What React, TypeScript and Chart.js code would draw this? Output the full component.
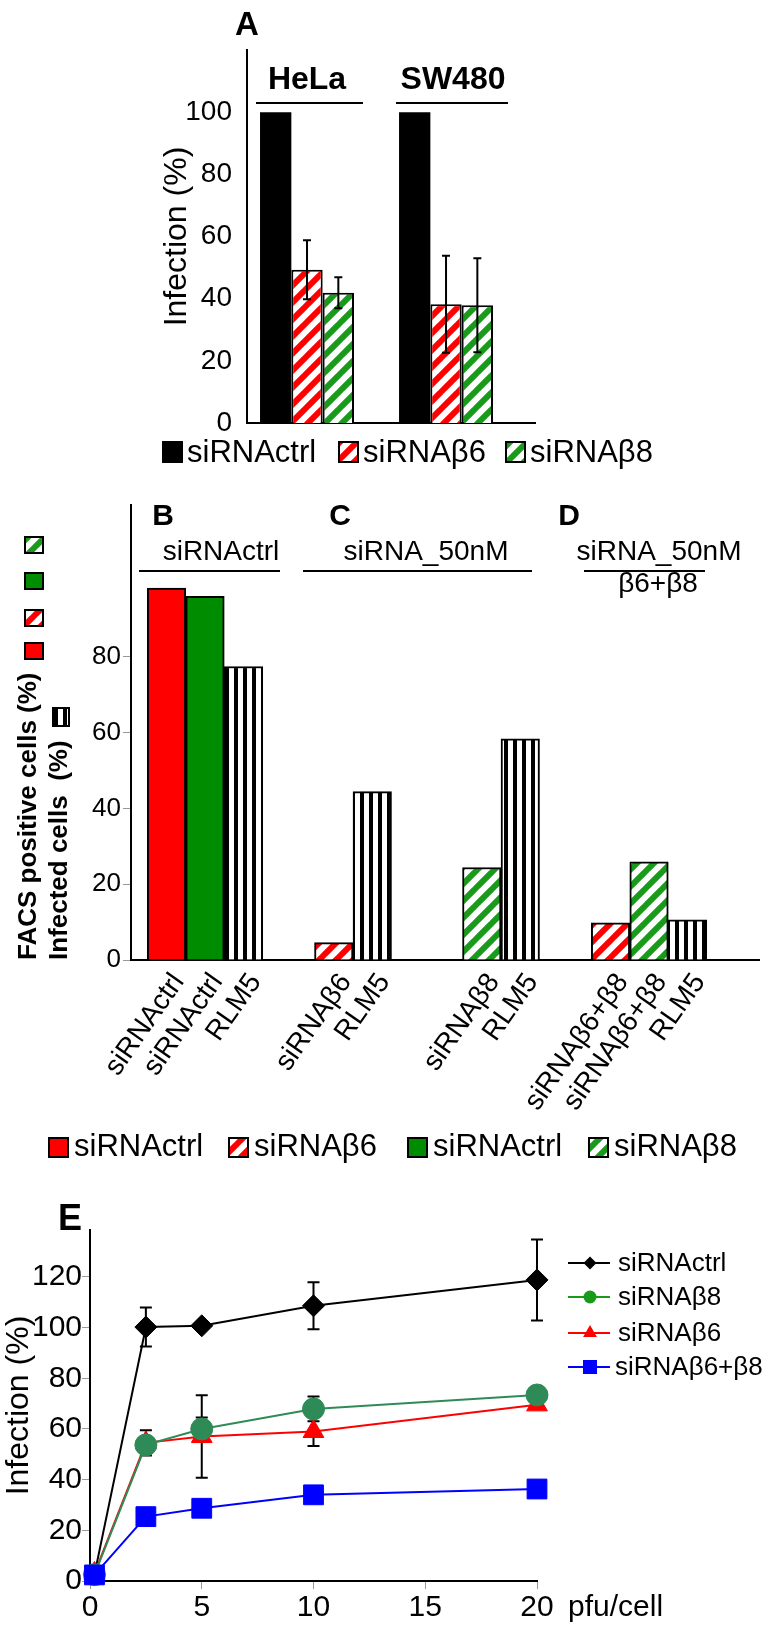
import React, { useEffect, useRef } from 'react';
import { Chart, registerables } from 'chart.js';

Chart.register(...registerables);

const FONT = '"Liberation Sans", Arial, Helvetica, sans-serif';
Chart.defaults.font.family = FONT;
Chart.defaults.color = '#000';

// ---------- Panel A ----------
const A_CELL_LINES = ['HeLa', 'SW480'];
const A_SERIES = ['siRNActrl', 'siRNAβ6', 'siRNAβ8'];
const A_CTRL = [100, 100];
const A_BETA6 = [49.3, 38.2];
const A_BETA6_ERR = [9.5, 15.6];
const A_BETA8 = [41.9, 37.9];
const A_BETA8_ERR = [5.0, 15.1];
const A_Y_TICKS = [0, 20, 40, 60, 80, 100];

// ---------- Panels B–D ----------
const BCD_GROUPS = ['siRNActrl', 'siRNAβ6', 'siRNAβ8', 'siRNAβ6+β8'];
const BCD_FACS_BETA6 = [98.1, 4.6, null, 9.8];
const BCD_FACS_BETA8 = [95.9, null, 24.4, 25.9];
const BCD_INFECTED_RLM5 = [77.4, 44.4, 58.3, 10.6];
const BCD_LABELS_BETA6 = ['siRNActrl', 'siRNAβ6', '', 'siRNAβ6+β8'];
const BCD_LABELS_BETA8 = ['siRNActrl', '', 'siRNAβ8', 'siRNAβ6+β8'];
const BCD_LABELS_RLM5 = ['RLM5', 'RLM5', 'RLM5', 'RLM5'];
const BCD_Y_TICKS = [0, 20, 40, 60, 80];
const BCD_LEGEND = ['siRNActrl', 'siRNAβ6', 'siRNActrl', 'siRNAβ8'];

// ---------- Panel E ----------
const E_SERIES = ['siRNActrl', 'siRNAβ8', 'siRNAβ6', 'siRNAβ6+β8'];
const E_PFU = [0.2, 2.5, 5, 10, 20];
const E_CTRL = [2.5, 100.2, 100.7, 108.6, 118.8];
const E_CTRL_ERR = [0, 7.7, 0, 9.3, 16];
const E_BETA8 = [2.5, 53.7, 60.0, 67.9, 73.4];
const E_BETA8_ERR = [0, 3, 4.5, 4.9, 0];
const E_BETA6 = [3.0, 54.5, 57.0, 59.0, 69.5];
const E_BETA6_ERR = [0, 5, 16.3, 5.7, 0];
const E_BETA68 = [2.4, 25.4, 28.7, 34.0, 36.3];
const E_X_TICKS = [0, 5, 10, 15, 20];
const E_Y_TICKS = [0, 20, 40, 60, 80, 100, 120];

const RED = '#FF0000';
const GREEN_SOLID = '#008C00';
const GREEN_HATCH = '#1A9A1A';
const E_COLORS = ['#000000', '#2E8B57', '#FF0000', '#0000FF'];
const E_LEGEND_COLORS = ['#000000', '#1A9A1A', '#FF0000', '#0000FF'];
const E_STYLES = ['rectRot', 'circle', 'triangle', 'rect'];

function makeHatch(color: string, size = 17, width = 6): CanvasPattern {
  const c = document.createElement('canvas');
  c.width = size;
  c.height = size;
  const g = c.getContext('2d') as CanvasRenderingContext2D;
  g.fillStyle = '#ffffff';
  g.fillRect(0, 0, size, size);
  g.strokeStyle = color;
  g.lineWidth = width;
  for (let k = -1; k <= 1; k++) {
    g.beginPath();
    g.moveTo(k * size - 2, size + 2);
    g.lineTo(k * size + size + 2, -2);
    g.stroke();
  }
  return g.createPattern(c, 'repeat') as CanvasPattern;
}

function makeVStripes(period = 9, black = 4): CanvasPattern {
  const c = document.createElement('canvas');
  c.width = period;
  c.height = 8;
  const g = c.getContext('2d') as CanvasRenderingContext2D;
  g.fillStyle = '#ffffff';
  g.fillRect(0, 0, period, 8);
  g.fillStyle = '#000000';
  g.fillRect(0, 0, black, 8);
  return g.createPattern(c, 'repeat') as CanvasPattern;
}

function drawErrorBars(chart: any, opts: any) {
  const { ctx, scales } = chart;
  const y = scales.y;
  ctx.save();
  ctx.strokeStyle = '#000';
  ctx.lineWidth = opts.lineWidth || 2;
  chart.data.datasets.forEach((ds: any, di: number) => {
    const errs = ds.errors;
    if (!errs) return;
    const meta = chart.getDatasetMeta(di);
    meta.data.forEach((el: any, i: number) => {
      const e = errs[i];
      const p = meta.controller.getParsed(i);
      if (!e || !p || p.y == null) return;
      const x = el.x;
      const yt = y.getPixelForValue(p.y + e);
      const yb = y.getPixelForValue(p.y - e);
      const c = opts.cap;
      ctx.beginPath();
      ctx.moveTo(x, yt);
      ctx.lineTo(x, yb);
      ctx.moveTo(x - c, yt);
      ctx.lineTo(x + c, yt);
      ctx.moveTo(x - c, yb);
      ctx.lineTo(x + c, yb);
      ctx.stroke();
    });
  });
  ctx.restore();
}

const errorBarsPlugin = {
  id: 'errorBars',
  beforeDatasetsDraw(chart: any, _a: any, opts: any) {
    if (opts && opts.under) drawErrorBars(chart, opts);
  },
  afterDatasetsDraw(chart: any, _a: any, opts: any) {
    if (opts && !opts.under) drawErrorBars(chart, opts);
  },
};

function box(ctx: CanvasRenderingContext2D, fill: any, x: number, y: number, w: number, h: number, border: boolean) {
  ctx.fillStyle = fill;
  ctx.fillRect(x, y, w, h);
  if (border) {
    ctx.lineWidth = 2;
    ctx.strokeStyle = '#000';
    ctx.strokeRect(x + 1, y + 1, w - 2, h - 2);
  }
}

function line(ctx: CanvasRenderingContext2D, x0: number, y0: number, x1: number, y1: number, w = 2, color = '#000') {
  ctx.beginPath();
  ctx.strokeStyle = color;
  ctx.lineWidth = w;
  ctx.moveTo(x0, y0);
  ctx.lineTo(x1, y1);
  ctx.stroke();
}

function drawMarker(ctx: CanvasRenderingContext2D, style: string, x: number, y: number, r: number, color: string) {
  ctx.fillStyle = color;
  ctx.beginPath();
  if (style === 'circle') {
    ctx.arc(x, y, r, 0, Math.PI * 2);
  } else if (style === 'rectRot') {
    ctx.moveTo(x, y - r);
    ctx.lineTo(x + r, y);
    ctx.lineTo(x, y + r);
    ctx.lineTo(x - r, y);
    ctx.closePath();
  } else if (style === 'triangle') {
    ctx.moveTo(x, y - r);
    ctx.lineTo(x + r * 0.866, y + r / 2);
    ctx.lineTo(x - r * 0.866, y + r / 2);
    ctx.closePath();
  } else {
    ctx.rect(x - r, y - r, 2 * r, 2 * r);
  }
  ctx.fill();
}

// ---- Panel A decorations (title letter, group headers, legend)
const panelAPlugin = {
  id: 'panelA',
  afterDraw(chart: any) {
    const ctx = chart.ctx as CanvasRenderingContext2D;
    ctx.save();
    ctx.fillStyle = '#000';
    ctx.textAlign = 'center';
    ctx.textBaseline = 'alphabetic';
    ctx.font = `bold 33px ${FONT}`;
    ctx.fillText('A', 247, 35);
    const heads = [
      { x: 307, x0: 256, x1: 363 },
      { x: 453, x0: 396, x1: 508 },
    ];
    A_CELL_LINES.forEach((name, i) => {
      ctx.fillStyle = '#000';
      ctx.font = `bold 32px ${FONT}`;
      ctx.fillText(name, heads[i].x, 89);
      line(ctx, heads[i].x0, 103, heads[i].x1, 103, 2);
    });
    const boxes = [162, 338, 505];
    ctx.font = `31px ${FONT}`;
    ctx.textAlign = 'left';
    ctx.textBaseline = 'middle';
    A_SERIES.forEach((name, i) => {
      const ds = chart.data.datasets[i];
      box(ctx, ds.backgroundColor, boxes[i], 441, 21, 22, i > 0);
      ctx.fillStyle = '#000';
      ctx.fillText(name, boxes[i] + 25, 453);
    });
    ctx.restore();
  },
};

// ---- Panels B–D decorations
function makeBCDPlugin(p: any) {
  return {
    id: 'panelBCD',
    afterDraw(chart: any) {
      const ctx = chart.ctx as CanvasRenderingContext2D;
      const area = chart.chartArea;
      ctx.save();
      ctx.fillStyle = '#000';
      ctx.textAlign = 'center';
      ctx.textBaseline = 'alphabetic';
      ctx.font = `bold 30px ${FONT}`;
      ctx.fillText('B', 163, 45);
      ctx.fillText('C', 340, 45);
      ctx.fillText('D', 569, 45);
      ctx.font = `28px ${FONT}`;
      ctx.fillText('siRNActrl', 221, 80);
      ctx.fillText('siRNA_50nM', 426, 80);
      ctx.fillText('siRNA_50nM', 659, 80);
      ctx.fillText('β6+β8', 658, 112);
      line(ctx, 139, 91, 280, 91, 2);
      line(ctx, 303, 91, 532, 91, 2);
      line(ctx, 584, 91, 705, 91, 2);

      // key squares next to the y-axis titles
      box(ctx, p.greenHatch, 24, 56, 20, 18, true);
      box(ctx, GREEN_SOLID, 24, 92, 20, 18, true);
      box(ctx, p.redHatch, 24, 129, 20, 18, true);
      box(ctx, RED, 24, 162, 20, 18, true);
      box(ctx, p.vstripes, 52, 227, 18, 20, true);

      // rotated labels under each bar
      ctx.font = `28px ${FONT}`;
      ctx.textAlign = 'right';
      ctx.textBaseline = 'middle';
      chart.data.datasets.forEach((ds: any, di: number) => {
        const meta = chart.getDatasetMeta(di);
        meta.data.forEach((el: any, i: number) => {
          const txt = ds.barLabels[i];
          const parsed = meta.controller.getParsed(i);
          if (!txt || !parsed || parsed.y == null || !isFinite(el.x)) return;
          ctx.save();
          ctx.translate(el.x + 12, area.bottom + 17);
          ctx.rotate((-55 * Math.PI) / 180);
          ctx.fillStyle = '#000';
          ctx.fillText(txt, 0, 0);
          ctx.restore();
        });
      });

      // bottom legend
      const fills = [RED, p.redHatch, GREEN_SOLID, p.greenHatch];
      const xs = [48, 228, 407, 588];
      ctx.font = `31px ${FONT}`;
      ctx.textAlign = 'left';
      ctx.textBaseline = 'middle';
      BCD_LEGEND.forEach((name, i) => {
        box(ctx, fills[i], xs[i], 657, 21, 21, true);
        ctx.fillStyle = '#000';
        ctx.fillText(name, xs[i] + 26, 667);
      });
      ctx.restore();
    },
  };
}

// ---- Panel E decorations
const panelEPlugin = {
  id: 'panelE',
  afterDraw(chart: any) {
    const ctx = chart.ctx as CanvasRenderingContext2D;
    const area = chart.chartArea;
    const xs = chart.scales.x;
    ctx.save();
    ctx.fillStyle = '#000';
    ctx.textAlign = 'left';
    ctx.textBaseline = 'alphabetic';
    ctx.font = `bold 36px ${FONT}`;
    ctx.fillText('E', 58, 50);
    ctx.font = `30px ${FONT}`;
    ctx.textBaseline = 'middle';
    ctx.fillText('pfu/cell', xs.getPixelForValue(20) + 31, area.bottom + 27);

    const rows = [83, 117, 153, 187];
    const radii = [6.5, 6.5, 8, 7];
    ctx.font = `26px ${FONT}`;
    E_SERIES.forEach((name, i) => {
      const y = rows[i];
      line(ctx, 568, y, 610, y, 2, E_LEGEND_COLORS[i]);
      drawMarker(ctx, E_STYLES[i], 590, y, radii[i], E_LEGEND_COLORS[i]);
      ctx.fillStyle = '#000';
      ctx.fillText(name, i === 3 ? 615 : 618, y + 1);
    });
    ctx.restore();
  },
};

export default function App() {
  const aRef = useRef<HTMLCanvasElement>(null);
  const bRef = useRef<HTMLCanvasElement>(null);
  const eRef = useRef<HTMLCanvasElement>(null);

  useEffect(() => {
    const redHatch = makeHatch(RED);
    const greenHatch = makeHatch(GREEN_HATCH);
    const vstripes = makeVStripes();

    // ---------------- Chart A ----------------
    const chartA = new Chart(aRef.current as HTMLCanvasElement, {
      type: 'bar',
      data: {
        datasets: [
          {
            label: A_SERIES[0],
            data: A_CTRL.map((v, i) => ({ x: i, y: v })),
            backgroundColor: '#000000',
            borderWidth: 0,
          },
          {
            label: A_SERIES[1],
            data: A_BETA6.map((v, i) => ({ x: i, y: v })),
            backgroundColor: redHatch,
            borderColor: '#000',
            borderWidth: 2,
            errors: A_BETA6_ERR,
          } as any,
          {
            label: A_SERIES[2],
            data: A_BETA8.map((v, i) => ({ x: i, y: v })),
            backgroundColor: greenHatch,
            borderColor: '#000',
            borderWidth: 2,
            errors: A_BETA8_ERR,
          } as any,
        ],
      },
      options: {
        animation: false,
        responsive: false,
        maintainAspectRatio: false,
        datasets: { bar: { categoryPercentage: 0.676, barPercentage: 1 } },
        layout: { padding: { left: 158, right: 235, top: 50, bottom: 0 } },
        plugins: {
          legend: { display: false },
          tooltip: { enabled: false },
          errorBars: { cap: 4, lineWidth: 2, under: false },
        } as any,
        scales: {
          x: {
            type: 'linear',
            min: -0.4317,
            max: 1.64,
            offset: false,
            grid: { display: false, drawTicks: false },
            ticks: { display: false },
            border: { display: true, color: '#000', width: 2 },
            afterBuildTicks: (ax: any) => {
              ax.ticks = A_CELL_LINES.map((_, i) => ({ value: i }));
            },
            afterFit: (ax: any) => {
              ax.height = 57;
            },
          },
          y: {
            min: 0,
            max: 120,
            grid: { display: false, drawTicks: false },
            border: { display: true, color: '#000', width: 2 },
            ticks: { font: { size: 28 }, color: '#000', padding: 15 },
            afterBuildTicks: (ax: any) => {
              ax.ticks = A_Y_TICKS.map((v) => ({ value: v }));
            },
            title: { display: true, text: 'Infection (%)', font: { size: 32 }, color: '#000', padding: 0 },
            afterFit: (ax: any) => {
              ax.width = 89;
            },
          },
        },
      } as any,
      plugins: [errorBarsPlugin, panelAPlugin],
    });

    // ---------------- Chart B–D ----------------
    const chartB = new Chart(bRef.current as HTMLCanvasElement, {
      type: 'bar',
      data: {
        datasets: [
          {
            label: 'FACS β6-positive cells',
            data: BCD_FACS_BETA6.map((v, i) => ({ x: i, y: v })),
            backgroundColor: [RED, redHatch, redHatch, redHatch],
            borderColor: '#000',
            borderWidth: 2,
            barLabels: BCD_LABELS_BETA6,
          } as any,
          {
            label: 'FACS β8-positive cells',
            data: BCD_FACS_BETA8.map((v, i) => ({ x: i, y: v })),
            backgroundColor: [GREEN_SOLID, greenHatch, greenHatch, greenHatch],
            borderColor: '#000',
            borderWidth: 2,
            barLabels: BCD_LABELS_BETA8,
          } as any,
          {
            label: 'Infected cells',
            data: BCD_INFECTED_RLM5.map((v, i) => ({ x: i, y: v })),
            backgroundColor: vstripes,
            borderColor: '#000',
            borderWidth: 2,
            barLabels: BCD_LABELS_RLM5,
          } as any,
        ],
      },
      options: {
        animation: false,
        responsive: false,
        maintainAspectRatio: false,
        datasets: { bar: { skipNull: true, barThickness: 38.5, grouped: true } },
        layout: { padding: { left: 13, right: 11, top: 25, bottom: 0 } },
        plugins: { legend: { display: false }, tooltip: { enabled: false } },
        scales: {
          x: {
            type: 'linear',
            min: -0.5,
            max: 3.743,
            offset: false,
            grid: { display: false, drawTicks: false },
            ticks: { display: false },
            border: { display: true, color: '#000', width: 2 },
            afterBuildTicks: (ax: any) => {
              ax.ticks = BCD_GROUPS.map((_, i) => ({ value: i }));
            },
            afterFit: (ax: any) => {
              ax.height = 220;
            },
          },
          y: {
            min: 0,
            max: 120,
            grid: { drawOnChartArea: false, drawTicks: true, tickLength: 8, color: '#999' },
            border: { display: true, color: '#000', width: 2 },
            ticks: { font: { size: 26 }, color: '#000', padding: 2 },
            afterBuildTicks: (ax: any) => {
              ax.ticks = BCD_Y_TICKS.map((v) => ({ value: v }));
            },
            title: {
              display: true,
              text: ['FACS positive cells (%)', 'Infected cells  (%)'],
              align: 'start',
              font: { size: 26, weight: 'bold' },
              color: '#000',
              padding: 0,
            },
            afterFit: (ax: any) => {
              ax.width = 118;
            },
          },
        },
      } as any,
      plugins: [makeBCDPlugin({ redHatch, greenHatch, vstripes })],
    });

    // ---------------- Chart E ----------------
    const eData = [E_CTRL, E_BETA8, E_BETA6, E_BETA68];
    const eErr = [E_CTRL_ERR, E_BETA8_ERR, E_BETA6_ERR, null];
    const eRadius = [11, 11, 12, 14];
    const eOrder = [3, 1, 2, 0];
    const chartE = new Chart(eRef.current as HTMLCanvasElement, {
      type: 'line',
      data: {
        datasets: E_SERIES.map((name, k) => ({
          label: name,
          data: E_PFU.map((x, i) => ({ x, y: eData[k][i] })),
          borderColor: E_COLORS[k],
          backgroundColor: E_COLORS[k],
          pointBackgroundColor: E_COLORS[k],
          pointBorderColor: E_COLORS[k],
          pointBorderWidth: 1,
          pointStyle: E_STYLES[k],
          pointRadius: eRadius[k],
          borderWidth: 2,
          tension: 0,
          fill: false,
          clip: false,
          order: eOrder[k],
          errors: eErr[k],
        })) as any,
      },
      options: {
        animation: false,
        responsive: false,
        maintainAspectRatio: false,
        layout: { padding: { left: 0, right: 233, top: 50, bottom: 0 } },
        plugins: {
          legend: { display: false },
          tooltip: { enabled: false },
          errorBars: { cap: 6, lineWidth: 2, under: true },
        } as any,
        scales: {
          x: {
            type: 'linear',
            min: 0,
            max: 20,
            grid: { drawOnChartArea: false, drawTicks: true, tickLength: 8, color: '#999' },
            border: { display: true, color: '#000', width: 2 },
            ticks: { font: { size: 30 }, color: '#000', padding: 1 },
            afterBuildTicks: (ax: any) => {
              ax.ticks = E_X_TICKS.map((v) => ({ value: v }));
            },
            afterFit: (ax: any) => {
              ax.height = 52;
            },
          },
          y: {
            min: 0,
            max: 138.5,
            grid: { drawOnChartArea: false, drawTicks: true, tickLength: 8, color: '#999' },
            border: { display: true, color: '#000', width: 2 },
            ticks: { font: { size: 30 }, color: '#000', padding: 0 },
            afterBuildTicks: (ax: any) => {
              ax.ticks = E_Y_TICKS.map((v) => ({ value: v }));
            },
            title: { display: true, text: 'Infection (%)', font: { size: 32 }, color: '#000', padding: 0 },
            afterFit: (ax: any) => {
              ax.width = 90;
            },
          },
        },
      } as any,
      plugins: [errorBarsPlugin, panelEPlugin],
    });

    return () => {
      chartA.destroy();
      chartB.destroy();
      chartE.destroy();
    };
  }, []);

  return (
    <div
      style={{
        position: 'absolute',
        left: 0,
        top: 0,
        width: 770,
        height: 1633,
        background: '#fff',
        overflow: 'hidden',
      }}
    >
      <canvas
        ref={aRef}
        width={770}
        height={480}
        style={{ position: 'absolute', left: 0, top: 0, width: 770, height: 480 }}
      />
      <canvas
        ref={bRef}
        width={770}
        height={700}
        style={{ position: 'absolute', left: 0, top: 480, width: 770, height: 700 }}
      />
      <canvas
        ref={eRef}
        width={770}
        height={453}
        style={{ position: 'absolute', left: 0, top: 1180, width: 770, height: 453 }}
      />
    </div>
  );
}
